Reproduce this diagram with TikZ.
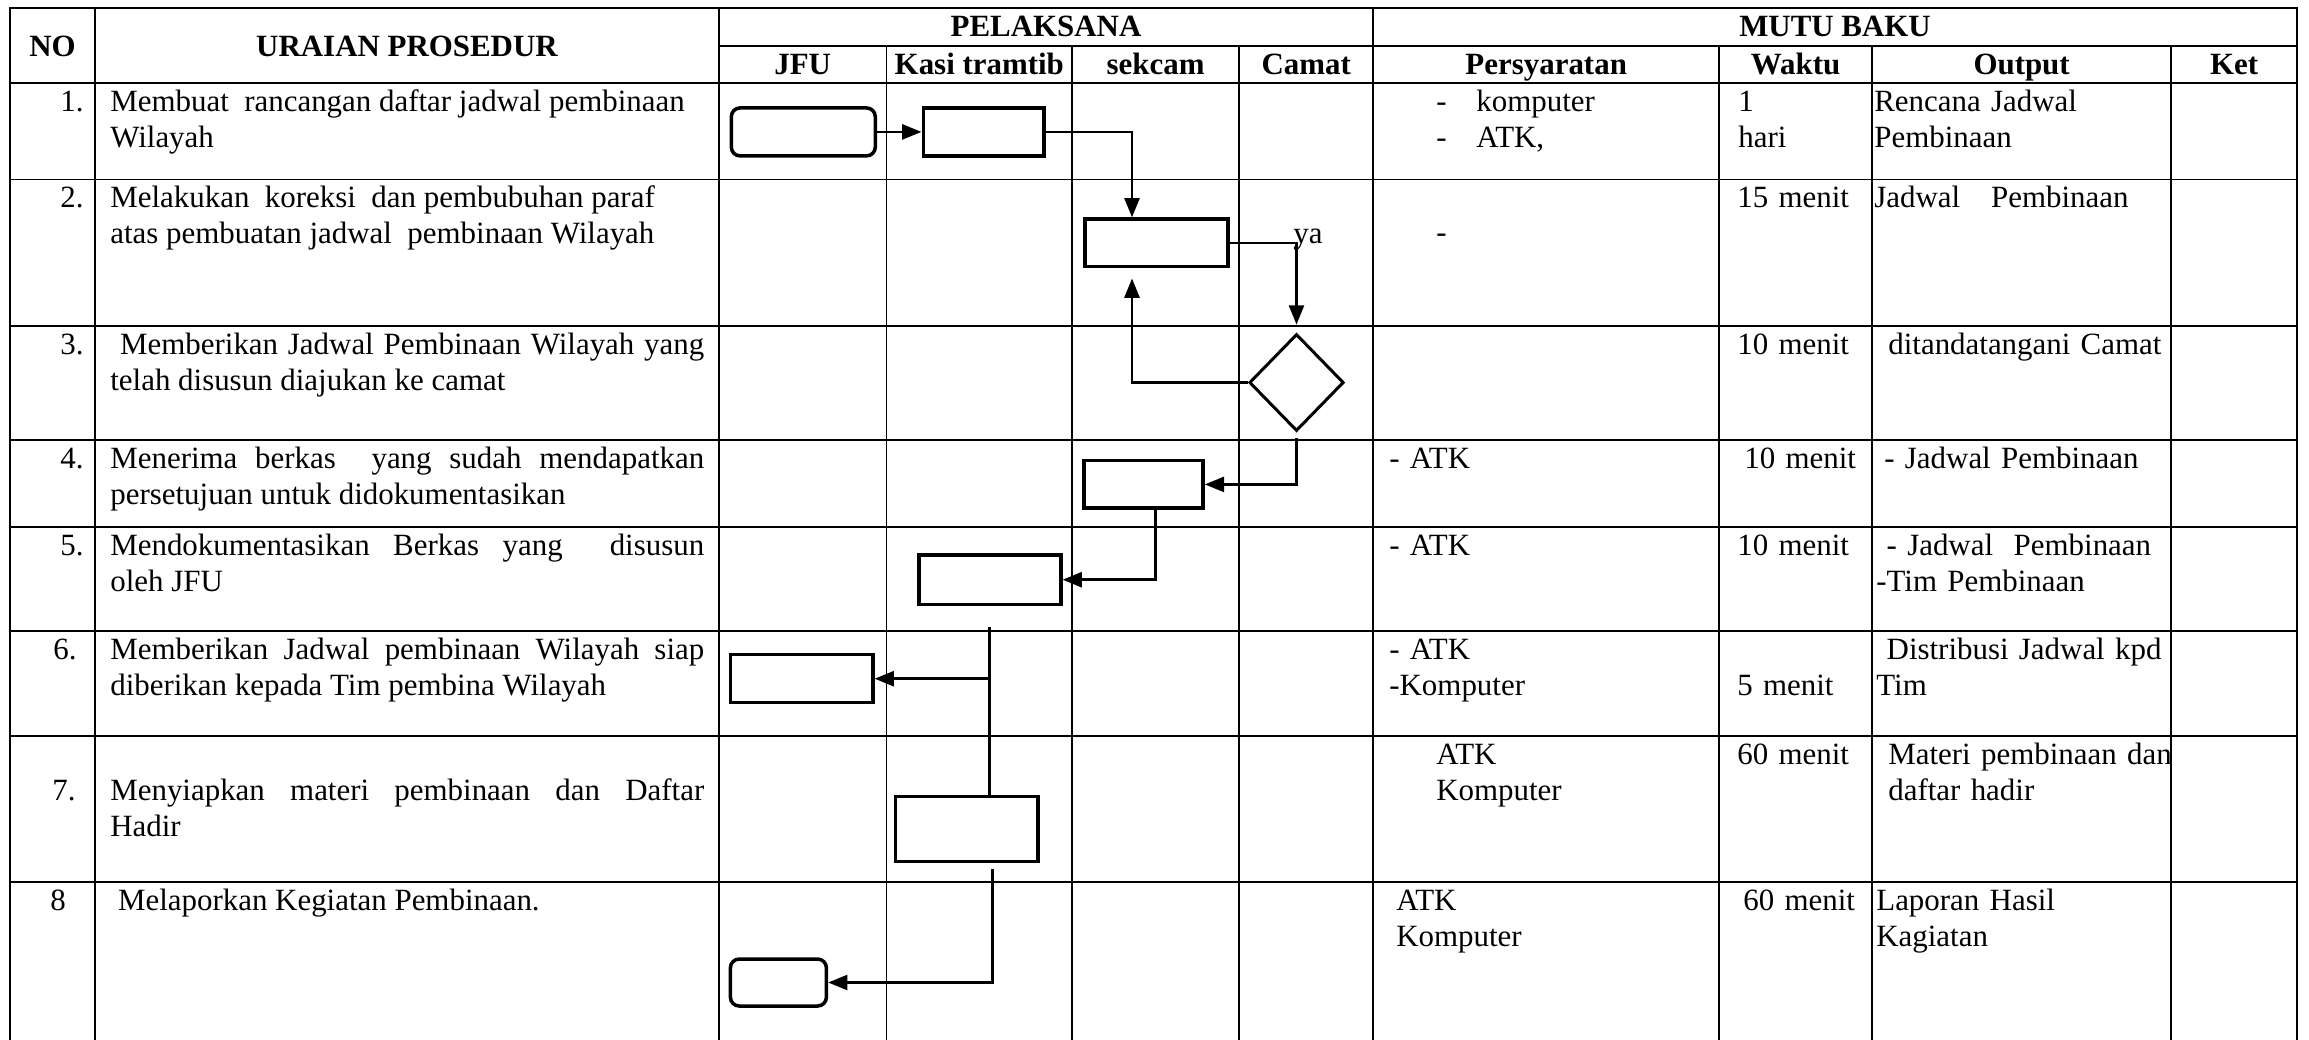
\documentclass[tikz,border=0pt]{standalone}
\usepackage{fontspec}
\setmainfont{Liberation Serif}
\usetikzlibrary{arrows.meta, shapes.geometric}

\begin{document}
\begin{tikzpicture}[x=0.02cm, y=-0.02cm, font=\fontsize{17.6}{20.5}\selectfont,
	grid/.style={line width=0.95pt, line cap=rect},
	proc/.style={draw, line width=2pt, inner sep=0pt},
	term/.style={proc, rounded corners=5pt},
	dec/.style={draw, diamond, line width=1.7pt, inner sep=0pt},
	flow/.style={line width=1.6pt},
	head/.style={font=\fontsize{17.6}{20.5}\selectfont\bfseries, inner sep=0pt, anchor=base},
	num/.style={inner sep=0pt, anchor=base east},
	txt/.style={inner sep=0pt, anchor=base west, text width=7cm, align=left},
	urai/.style={inner sep=0pt, anchor=base west, text width=11.88cm, align=justify},
	>={Triangle[length=11pt,width=8.5pt]}]
	\useasboundingbox (0,0) rectangle (2309,1039);
	% table
	\foreach \x in {10,95,718.8,1373.2,2297} \draw[grid] (\x,8.3) -- (\x,1039);
	\foreach \x in {886.6,1239.3,1719.2,1871.9,2171.3} \draw[grid] (\x,45.7) -- (\x,1039);
	\draw[grid, line width=1.3pt] (1071.9,45.7) -- (1071.9,1039);
	\foreach \y in {8.3,83.3,179.5,326,440,527,631,736,882.3} \draw[grid] (10,\y) -- (2297,\y);
	\draw[grid] (718.8,45.7) -- (2297,45.7);

	% header
	\node[head] (hno) at (52.5,56) {NO};
	\node[head] (hur) at (407,56) {URAIAN PROSEDUR};
	\node[head] (hpl) at (1046,36.5) {PELAKSANA};
	\node[head] (hmb) at (1835,36.5) {MUTU BAKU};
	\node[head] (hjfu) at (802.7,74.5) {JFU};
	\node[head] (hkasi) at (979.3,74.5) {Kasi tramtib};
	\node[head] (hsek) at (1155.6,74.5) {sekcam};
	\node[head] (hcam) at (1306.3,74.5) {Camat};
	\node[head] (hpers) at (1546.2,74.5) {Persyaratan};
	\node[head] (hwak) at (1795.6,74.5) {Waktu};
	\node[head] (hout) at (2021.6,74.5) {Output};
	\node[head] (hket) at (2234.2,74.5) {Ket};

	% no
	\node[num] (n1) at (84,111) {1.};
	\node[num] (n2) at (84,207.5) {2.};
	\node[num] (n3) at (84,354) {3.};
	\node[num] (n4) at (84,468) {4.};
	\node[num] (n5) at (84,555) {5.};
	\node[num, anchor=base west] (n6) at (53,659) {6.};
	\node[num] (n7) at (76,800) {7.};
	\node[num, anchor=base west] (n8) at (50,910) {8};

	% uraian prosedur
	\node[urai] (u1) at (110,111) {Membuat\ \ rancangan daftar jadwal pembinaan\newline Wilayah};
	\node[urai] (u2) at (110,207.5) {Melakukan\ \ koreksi\ \ dan pembubuhan paraf\newline atas pembuatan jadwal\ \ pembinaan Wilayah};
	\node[urai] (u3) at (110,354) {\ Memberikan Jadwal Pembinaan Wilayah yang\linebreak telah disusun diajukan ke camat};
	\node[urai] (u4) at (110,468) {Menerima berkas\ \ yang sudah mendapatkan\linebreak persetujuan untuk didokumentasikan};
	\node[urai] (u5) at (110,555) {Mendokumentasikan Berkas yang\ \ disusun\linebreak oleh JFU};
	\node[urai] (u6) at (110,659) {Memberikan Jadwal pembinaan Wilayah siap\linebreak diberikan kepada Tim pembina Wilayah};
	\node[urai] (u7) at (110,800) {Menyiapkan materi pembinaan dan Daftar\linebreak Hadir};
	\node[urai] (u8) at (110,910) {\ Melaporkan Kegiatan Pembinaan.};

	% pelaksana
	\node[term, minimum width=2.88cm, minimum height=0.96cm] (t1) at (803.3,131.9) {};
	\node[proc, minimum width=2.41cm, minimum height=0.96cm] (p1) at (983.5,131.9) {};
	\node[proc, minimum width=2.87cm, minimum height=0.95cm] (p2) at (1156.5,242.9) {};
	\node[dec, minimum width=1.89cm, minimum height=1.94cm] (d1) at (1296.5,382.5) {};
	\node[proc, minimum width=2.38cm, minimum height=0.95cm] (p3) at (1143.5,484.4) {};
	\node[proc, minimum width=2.84cm, minimum height=0.99cm] (p4) at (989.8,579.7) {};
	\node[proc, minimum width=2.85cm, minimum height=0.96cm] (p5) at (801.6,678.7) {};
	\node[proc, minimum width=2.85cm, minimum height=1.3cm] (p6) at (966.7,829.2) {};
	\node[term, minimum width=1.92cm, minimum height=0.94cm] (t2) at (778.4,982.5) {};
	\coordinate (b1) at (1132,133);
	\coordinate (b2) at (1155.3,579.3);
	\coordinate (b3) at (992.6,985.7);
	\node[txt] (ya) at (1293,243) {ya};

	\draw[flow,->] (t1) -- (p1);
	\draw[flow,->] (p1.east) -- (p1.east -| b1) -- (b1 |- p2.north);
	\draw[flow,->,shorten >=4.5pt] (p2.east) -| (d1.north);
	\draw[flow,->,shorten >=5.7pt] (d1.west) -| (b1 |- p2.south);
	\draw[flow,->,shorten <=3.2pt] (d1.south) |- (p3.east);
	\draw[flow,->] (b2 |- p3.south) |- (p4.east);
	\draw[flow,shorten <=12pt] (p4.south) -- (p4.south |- p6.north);
	\draw[flow,->] (p4.south |- p5.east) -- (p5.east);
	\draw[flow,->,shorten <=3pt] (b3 |- p6.south) |- (t2.east);

	% persyaratan
	\node[txt] (ps1) at (1436,111) {\makebox[0.8cm][l]{-}komputer\\\makebox[0.8cm][l]{-}ATK,};
	\node[txt] (ps2) at (1436,242) {-};
	\node[txt] (ps4) at (1389,468) {- ATK};
	\node[txt] (ps5) at (1389,555) {- ATK};
	\node[txt] (ps6) at (1389,659) {- ATK\\-Komputer};
	\node[txt] (ps7) at (1436,764) {ATK\\Komputer};
	\node[txt] (ps8) at (1396,910) {ATK\\Komputer};

	% waktu
	\node[txt] (wk1) at (1738,111) {1\\hari};
	\node[txt] (wk2) at (1737,207.5) {15 menit};
	\node[txt] (wk3) at (1737,354) {10 menit};
	\node[txt] (wk4) at (1744,468) {10 menit};
	\node[txt] (wk5) at (1737,555) {10 menit};
	\node[txt] (wk6) at (1737,695) {5 menit};
	\node[txt] (wk7) at (1737,764) {60 menit};
	\node[txt] (wk8) at (1743,910) {60 menit};

	% output
	\node[txt] (op1) at (1874,111) {Rencana Jadwal\\Pembinaan};
	\node[txt] (op2) at (1874,207.5) {Jadwal\ \ \ Pembinaan};
	\node[txt] (op3) at (1888,354) {ditandatangani Camat};
	\node[txt] (op4) at (1884,468) {- Jadwal Pembinaan};
	\node[txt] (op5) at (1876,555) {\ - Jadwal\ \ Pembinaan\\-Tim Pembinaan};
	\node[txt] (op6) at (1876,659) {\ Distribusi Jadwal kpd\\Tim};
	\node[txt] (op7) at (1888,764) {Materi pembinaan dan\\daftar hadir};
	\node[txt] (op8) at (1876,910) {Laporan Hasil\\Kagiatan};
\end{tikzpicture}
\end{document}
